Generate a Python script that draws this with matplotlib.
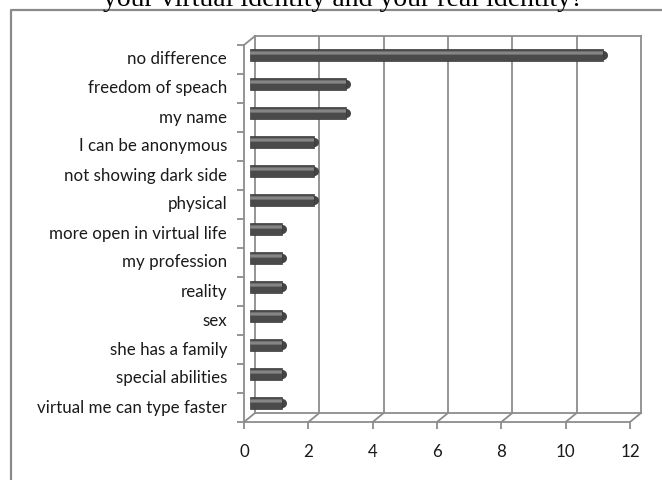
import numpy as np
import matplotlib.pyplot as plt
from matplotlib.transforms import offset_copy, IdentityTransform
from matplotlib.lines import Line2D

categories = ['no difference', 'freedom of speach', 'my name', 'I can be anonymous',
              'not showing dark side', 'physical', 'more open in virtual life',
              'my profession', 'reality', 'sex', 'she has a family',
              'special abilities', 'virtual me can type faster']
counts = [11, 3, 3, 2, 2, 2, 1, 1, 1, 1, 1, 1, 1]
xticks = [0, 2, 4, 6, 8, 10, 12]
title = 'your virtual identity and your real identity?'

W, H = 662, 480
GRID = '#8c8c8c'
LABEL_FONT = 'Lato'

fig = plt.figure(figsize=(W / 100, H / 100), dpi=100)
fig.patch.set_facecolor('white')

# back wall of the 3d chart, in pixels: x 255..641, y 36..413
ax = fig.add_axes([255 / W, 1 - 413 / H, (641 - 255) / W, (413 - 36) / H])
n = len(categories)
ax.set_xlim(0, 12)
ax.set_ylim(n - 0.5, -0.5)
ax.set_xticks([])
ax.set_yticks([])
for s in ax.spines.values():
    s.set_color(GRID)
    s.set_linewidth(1.3)
ax.vlines(xticks[1:-1], -0.5, n - 0.5, color=GRID, lw=1.3)

# depth offsets (front face and middle of the depth)
front = offset_copy(ax.transData, fig=fig, x=-11, y=-9, units='dots')
mid = offset_copy(ax.transData, fig=fig, x=-5.5, y=-4.5, units='dots')

# front axes
ax.plot([0, 0], [-0.5, n - 0.5], color=GRID, lw=1.3, transform=front, clip_on=False)
ax.plot([0, 12], [n - 0.5, n - 0.5], color=GRID, lw=1.3, transform=front, clip_on=False)
ax.plot(xticks, [n - 0.5] * len(xticks), ls='', marker=3, ms=5, mew=1.3,
        color=GRID, transform=front, clip_on=False)
ax.plot([0] * (n + 1), np.arange(n + 1) - 0.5, ls='', marker=0, ms=5, mew=1.3,
        color=GRID, transform=front, clip_on=False)

# depth lines from front to back wall
fig.canvas.draw()
depth_pts = [(x, n - 0.5) for x in xticks] + [(0, -0.5)]
for p in depth_pts:
    a = front.transform(p)
    b = ax.transData.transform(p)
    fig.lines.append(Line2D([a[0], b[0]], [a[1], b[1]], color=GRID, lw=1.3,
                            transform=IdentityTransform()))

# cylinder bars
y = np.arange(n)
ax.plot(counts, y, ls='', marker='o', ms=6.5, color='#454545', mew=0,
        transform=mid, clip_on=False, zorder=3)
ax.barh(y, counts, height=0.40, color='#4a4a4a', edgecolor='#3a3a3a', lw=0.5,
        transform=mid, clip_on=False, zorder=3)
ax.barh(y - 0.07, counts, height=0.12, color='#6e6e6e', lw=0,
        transform=mid, clip_on=False, zorder=4)
ax.barh(y - 0.07, counts, height=0.05, color='#858585', lw=0,
        transform=mid, clip_on=False, zorder=4)

# labels
lab_tr = offset_copy(front, fig=fig, x=-17, y=0, units='dots')
for i, c in enumerate(categories):
    ax.text(0, i, c, transform=lab_tr, ha='right', va='center',
            fontsize=12.2, family=LABEL_FONT, color='#1a1a1a')
tick_tr = offset_copy(front, fig=fig, x=0, y=-30, units='dots')
for t in xticks:
    ax.text(t, n - 0.5, str(t), transform=tick_tr, ha='center', va='center',
            fontsize=12.2, family=LABEL_FONT, color='#1a1a1a')

# outer chart frame
fig.lines.append(Line2D([11 / W, 11 / W, 1.0], [0.0, 1 - 10 / H, 1 - 10 / H],
                        color='#8a8a8a', lw=1.6, transform=fig.transFigure))

# title, cut off at the top as in the source image
fig.text(343 / W, 1 - 6 / H, title, ha='center', va='baseline',
         fontsize=20, family='Liberation Serif', color='black')

fig.savefig('out.png', dpi=100)
